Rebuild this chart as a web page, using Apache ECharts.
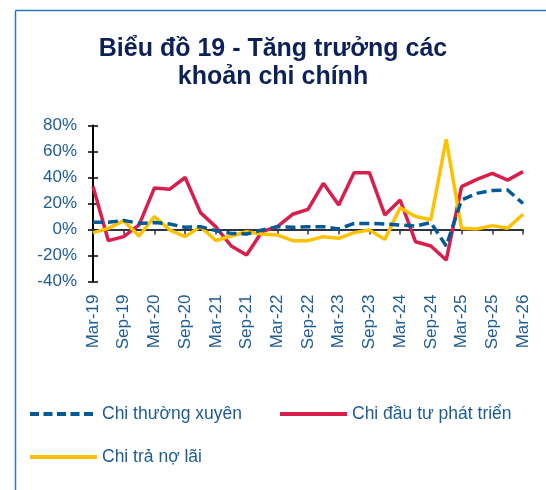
<!DOCTYPE html>
<html>
<head>
<meta charset="utf-8">
<script src="https://cdn.jsdelivr.net/npm/echarts@6/dist/echarts.min.js"></script>
<style>
html,body{margin:0;padding:0;background:#fff;}
#c{width:546px;height:490px;}
</style>
</head>
<body>
<div id="c"></div>
<script>
var categories = ['Mar-19','Jun-19','Sep-19','Dec-19','Mar-20','Jun-20','Sep-20','Dec-20',
  'Mar-21','Jun-21','Sep-21','Dec-21','Mar-22','Jun-22','Sep-22','Dec-22',
  'Mar-23','Jun-23','Sep-23','Dec-23','Mar-24','Jun-24','Sep-24','Dec-24',
  'Mar-25','Jun-25','Sep-25','Dec-25','Mar-26'];
var chiThuongXuyen = [5.5,5.5,7,4.7,5.3,4.2,1.7,2.2,-0.9,-3,-3.5,-0.4,2.2,1.7,2.2,2.2,0.4,4.7,4.7,4.2,3.5,2.7,5.3,-12.7,22.7,27.8,30,30.4,20];
var chiDauTu = [33,-8.6,-5.5,3.5,32,31,40,13,2,-12.7,-19.6,-1.7,2.2,11.7,15.5,35.5,18.8,43.7,43.7,11.2,22.7,-9.4,-12.7,-23.5,33,38.6,43.2,38,44.5];
var chiTraNoLai = [-2.4,0.9,6.8,-5,9.9,-0.4,-5.5,2.2,-8.5,-5,-1.7,-3.5,-4.2,-8.6,-8.6,-5.5,-6.8,-2.4,-0.4,-7.6,16.8,10,7.5,69.4,0.9,0.4,3,0.9,11.7];
var seriesNames = ['Chi thường xuyên','Chi đầu tư phát triển','Chi trả nợ lãi'];

var FONT = '"Liberation Sans", Arial, sans-serif';
var TXT = '#1C5C94';
var chart = echarts.init(document.getElementById('c'), null, {renderer:'canvas'});
var legendText = {color: TXT, fontSize: 17.5, fontFamily: FONT};
var noSym = {color:'transparent', borderColor:'transparent', borderWidth:0};
chart.setOption({
  animation: false,
  backgroundColor: '#fff',
  title: {
    text: 'Biểu đồ 19 - Tăng trưởng các\nkhoản chi chính',
    left: 'center', top: 30,
    textStyle: {color: '#0C2157', fontSize: 25, fontWeight: 'bold', fontFamily: FONT, lineHeight: 28}
  },
  graphic: [
    {type:'line', shape:{x1:15.5,y1:10.5,x2:15.5,y2:490}, style:{stroke:'#2E75B6', lineWidth:1.5}},
    {type:'line', shape:{x1:15.5,y1:10.5,x2:546,y2:10.5}, style:{stroke:'#2E75B6', lineWidth:1.5}}
  ],
  legend: [
    {data:[seriesNames[0]], left: 28, top: 405, padding: 0, itemWidth: 67, itemHeight: 14, itemGap: 7, textStyle: legendText,
     itemStyle: noSym, lineStyle:{width:4, type:[9,4.5], color:'#005A96'}},
    {data:[seriesNames[1]], left: 278, top: 405, padding: 0, itemWidth: 67, itemHeight: 14, itemGap: 7, textStyle: legendText,
     itemStyle: noSym, lineStyle:{width:4, color:'#D81E4B'}},
    {data:[seriesNames[2]], left: 28, top: 448, padding: 0, itemWidth: 67, itemHeight: 14, itemGap: 7, textStyle: legendText,
     itemStyle: noSym, lineStyle:{width:4, color:'#FFC000'}}
  ],
  grid: {left: 93, right: 23, top: 125.5, bottom: 208.5, containLabel: false},
  xAxis: [
    {type:'category', data: categories, boundaryGap: false, position:'bottom',
     axisLine:{show:false, onZero:false}, axisTick:{show:false},
     axisLabel:{interval:1, rotate:90, color:TXT, fontSize:17, fontFamily:FONT, margin:13}},
    {type:'category', data: categories, boundaryGap: false, position:'bottom',
     axisLine:{show:true, onZero:true, lineStyle:{color:'#2B3344', width:2}},
     axisTick:{show:true, interval:1, length:5, lineStyle:{color:'#2B3344', width:1.5}},
     axisLabel:{show:false}}
  ],
  yAxis: [
    {type:'value', min:-40, max:80, interval:20,
     axisLine:{show:true, lineStyle:{color:'#000', width:2}},
     axisTick:{show:true, length:5, lineStyle:{color:'#000', width:1.5}},
     splitLine:{show:false},
     axisLabel:{formatter:'{value}%', color:TXT, fontSize:17, fontFamily:FONT, margin:16}},
    {type:'value', min:-40, max:80, interval:20, position:'left',
     axisLine:{show:false},
     axisTick:{show:true, inside:true, length:5, lineStyle:{color:'#000', width:1.5}},
     splitLine:{show:false}, axisLabel:{show:false}}
  ],
  series: [
    {name: seriesNames[0], type:'line', data: chiThuongXuyen, symbol:'none', z:3,
     lineStyle:{color:'#005A96', width:3.5, type:[10,5]}, itemStyle:{color:'#005A96'}},
    {name: seriesNames[1], type:'line', data: chiDauTu, symbol:'none', z:2,
     lineStyle:{color:'#D81E4B', width:3.5}, itemStyle:{color:'#D81E4B'}},
    {name: seriesNames[2], type:'line', data: chiTraNoLai, symbol:'none', z:2,
     lineStyle:{color:'#FFC000', width:3.5}, itemStyle:{color:'#FFC000'}}
  ]
});
</script>
</body>
</html>
